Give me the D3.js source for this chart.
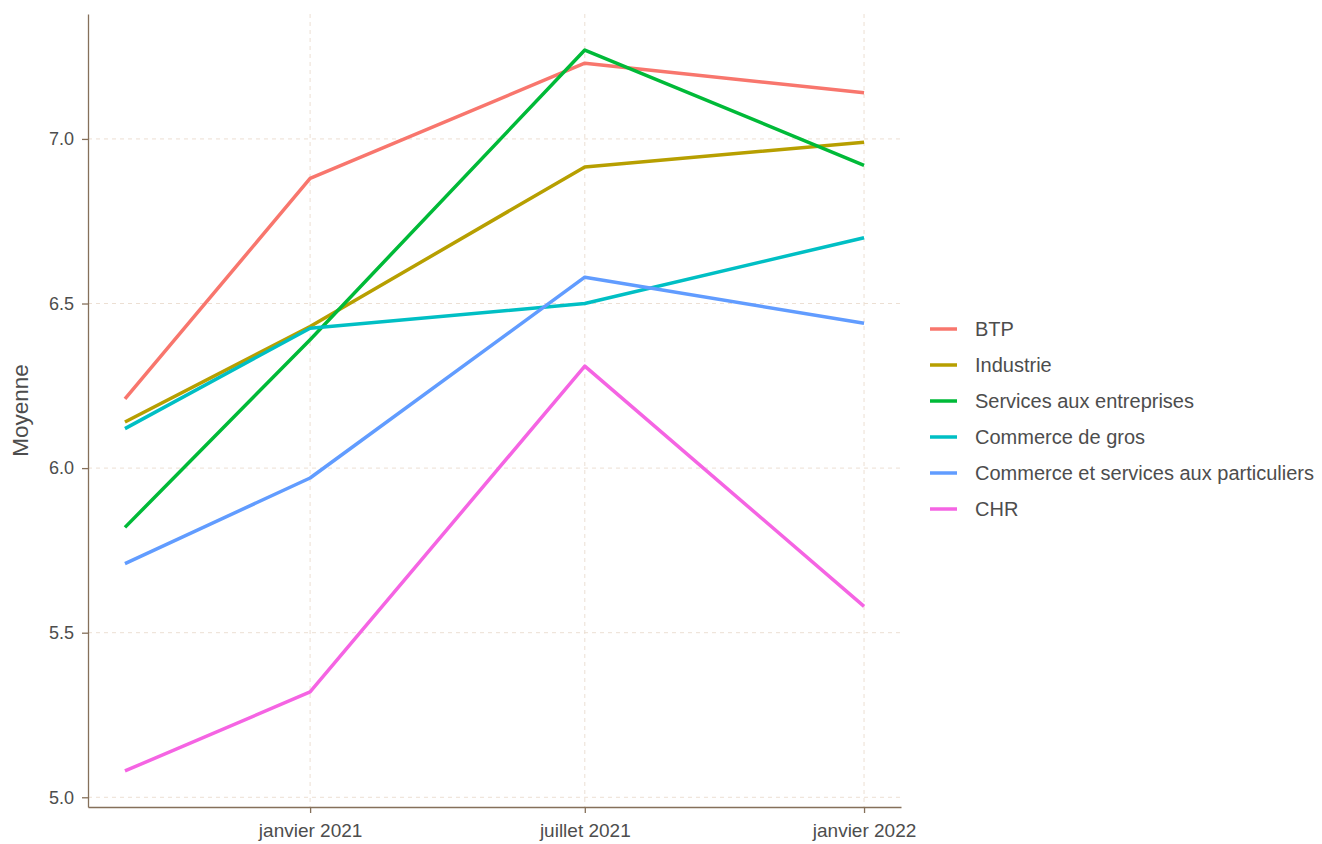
<!DOCTYPE html>
<html>
<head>
<meta charset="utf-8">
<script src="https://cdn.jsdelivr.net/npm/d3@7"></script>
<style>
  body { margin: 0; background: #fff; }
  svg { font-family: "Liberation Sans", Arial, sans-serif; }
  .grid line { stroke: #ecdfd3; stroke-dasharray: 4,4; stroke-width: 1; }
  .axis path, .axis line { stroke: #85705a; stroke-width: 1.3; }
</style>
</head>
<body>
<svg width="1322" height="844"></svg>
<script>
// dates of the survey waves
const dates = ['2020-09-01', '2021-01-01', '2021-07-01', '2022-01-01'];
const sectors = ['BTP', 'Industrie', 'Services aux entreprises', 'Commerce de gros',
  'Commerce et services aux particuliers', 'CHR'];
const colors = ['#F8766D', '#B79F00', '#00BA38', '#00BFC4', '#619CFF', '#F564E3'];

const btp = [6.21, 6.88, 7.23, 7.14];
const industrie = [6.14, 6.43, 6.915, 6.99];
const servicesEntreprises = [5.82, 6.39, 7.27, 6.92];
const commerceGros = [6.12, 6.425, 6.50, 6.70];
const commerceParticuliers = [5.71, 5.97, 6.58, 6.44];
const chr = [5.08, 5.32, 6.31, 5.58];

const yTicks = [5.0, 5.5, 6.0, 6.5, 7.0];
const xTicks = ['2021-01-01', '2021-07-01', '2022-01-01'];
const xTickLabels = ['janvier 2021', 'juillet 2021', 'janvier 2022'];

const seriesValues = [btp, industrie, servicesEntreprises, commerceGros, commerceParticuliers, chr];

const parse = d3.timeParse('%Y-%m-%d');
const series = sectors.map((name, i) => ({
  name,
  color: colors[i],
  points: dates.map((d, j) => ({ date: parse(d), value: seriesValues[i][j] }))
}));

const svg = d3.select('svg');
const panel = { left: 88, right: 901, top: 14, bottom: 807 };
const textColor = '#4d4d4d';

// ggplot-style 5% expansion
const ext = d3.extent(dates.map(parse));
const pad = (ext[1] - ext[0]) * 0.05;
const x = d3.scaleTime()
    .domain([new Date(+ext[0] - pad), new Date(+ext[1] + pad)])
    .range([panel.left, panel.right]);

const allVals = seriesValues.flat();
const yMin = d3.min(allVals), yMax = d3.max(allVals);
const yPad = (yMax - yMin) * 0.05;
const y = d3.scaleLinear()
    .domain([yMin - yPad, yMax + yPad])
    .range([panel.bottom, panel.top]);

// grid
const grid = svg.append('g').attr('class', 'grid');
grid.selectAll('.h').data(yTicks)
  .enter().append('line')
    .attr('x1', panel.left).attr('x2', panel.right)
    .attr('y1', d => y(d)).attr('y2', d => y(d));
grid.selectAll('.v').data(xTicks)
  .enter().append('line')
    .attr('y1', panel.top).attr('y2', panel.bottom)
    .attr('x1', d => x(parse(d))).attr('x2', d => x(parse(d)));

// lines
const line = d3.line()
    .x(d => x(d.date))
    .y(d => y(d.value));

svg.append('g').selectAll('path').data(series)
  .enter().append('path')
    .attr('fill', 'none')
    .attr('stroke', d => d.color)
    .attr('stroke-width', 3.5)
    .attr('stroke-linejoin', 'round')
    .attr('d', d => line(d.points));

// axes
const xAxis = d3.axisBottom(x)
    .tickValues(xTicks.map(parse))
    .tickFormat((d, i) => xTickLabels[i])
    .tickSize(6).tickPadding(11)
    .tickSizeOuter(0);
const gx = svg.append('g').attr('class', 'axis')
    .attr('transform', `translate(0,${panel.bottom})`)
    .call(xAxis);

const yAxis = d3.axisLeft(y)
    .tickValues(yTicks)
    .tickFormat(d3.format('.1f'))
    .tickSize(6).tickPadding(8)
    .tickSizeOuter(0);
const gy = svg.append('g').attr('class', 'axis')
    .attr('transform', `translate(${panel.left},0)`)
    .call(yAxis);

gx.selectAll('text')
    .attr('fill', textColor)
    .style('font-family', '"Liberation Sans", Arial, sans-serif')
    .style('font-size', '19px');
gy.selectAll('text')
    .attr('fill', textColor)
    .style('font-family', '"Liberation Sans", Arial, sans-serif')
    .style('font-size', '18px');

svg.append('text')
    .attr('transform', `translate(28,${(panel.top + panel.bottom) / 2}) rotate(-90)`)
    .attr('text-anchor', 'middle')
    .attr('fill', textColor)
    .style('font-size', '22.5px')
    .text('Moyenne');

// legend
const legend = svg.append('g').attr('transform', 'translate(930,329)');
const row = legend.selectAll('g').data(series)
  .enter().append('g')
    .attr('transform', (d, i) => `translate(0,${i * 36})`);
row.append('line')
    .attr('x1', 0).attr('x2', 27)
    .attr('stroke', d => d.color)
    .attr('stroke-width', 3.5);
row.append('text')
    .attr('x', 45).attr('dy', '0.35em')
    .attr('fill', textColor)
    .style('font-size', '20px')
    .text(d => d.name);
</script>
</body>
</html>
